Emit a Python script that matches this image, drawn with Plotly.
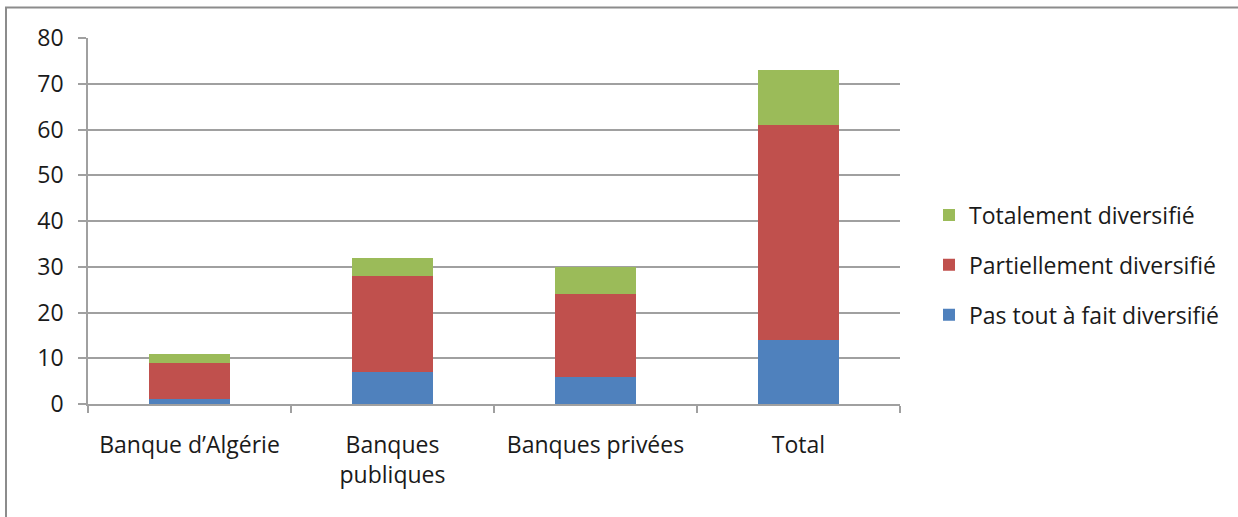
import plotly.graph_objects as go

categories = ["Banque d’Algérie", "Banques<br>publiques", "Banques privées", "Total"]
pas_tout = [1, 7, 6, 14]
partiellement = [8, 21, 18, 47]
totalement = [2, 4, 6, 12]

series = [
    ("Pas tout à fait diversifié", pas_tout, "#4F81BD", 3),
    ("Partiellement diversifié", partiellement, "#C0504D", 2),
    ("Totalement diversifié", totalement, "#9BBB59", 1),
]

W, H = 1238, 517
L, R, T, B = 88, 900, 38, 404
font_family = "'Open Sans', sans-serif"

fig = go.Figure()
for i, (name, vals, color, rank) in enumerate(series):
    fig.add_trace(go.Bar(
        x=categories, y=vals, name=name,
        marker=dict(color=color, line=dict(width=0)),
        legendgroup=f"g{i}", legendrank=rank,
    ))

pw, ph = R - L, B - T
fig.add_shape(type="rect", xref="paper", yref="paper",
              x0=(6 - L) / pw, x1=(W + 10 - L) / pw,
              y0=(B - (H + 10)) / ph, y1=1 + (T - 7.5) / ph,
              line=dict(color="#8C8C8C", width=2), fillcolor="rgba(0,0,0,0)",
              layer="below")

fig.update_layout(
    width=W, height=H,
    margin=dict(l=L, r=W - R, t=T, b=H - B),
    barmode="stack", bargap=0.6,
    plot_bgcolor="white", paper_bgcolor="white",
    font=dict(family=font_family, size=23, color="#1A1A1A"),
    legend=dict(
        x=(929 - L) / pw, xanchor="left",
        y=(B - 265) / ph, yanchor="middle",
        traceorder="grouped", tracegroupgap=17,
        font=dict(size=23, color="#1A1A1A"),
        itemwidth=30,
    ),
    showlegend=True,
)
fig.update_xaxes(
    showline=True, linecolor="#A0A0A0", linewidth=1.5,
    ticks="outside", tickson="boundaries", ticklen=7, tickcolor="#A0A0A0", tickwidth=1.5,
    ticklabelstandoff=20,
    showgrid=False,
)
fig.update_yaxes(
    range=[0, 80], dtick=10,
    showline=True, linecolor="#A0A0A0", linewidth=1.5,
    ticks="outside", ticklen=8, tickcolor="#A0A0A0", tickwidth=1.5,
    showgrid=True, gridcolor="#A0A0A0", gridwidth=1.5,
    zeroline=False,
    ticklabelstandoff=10,
)

fig.write_html("out.html")
